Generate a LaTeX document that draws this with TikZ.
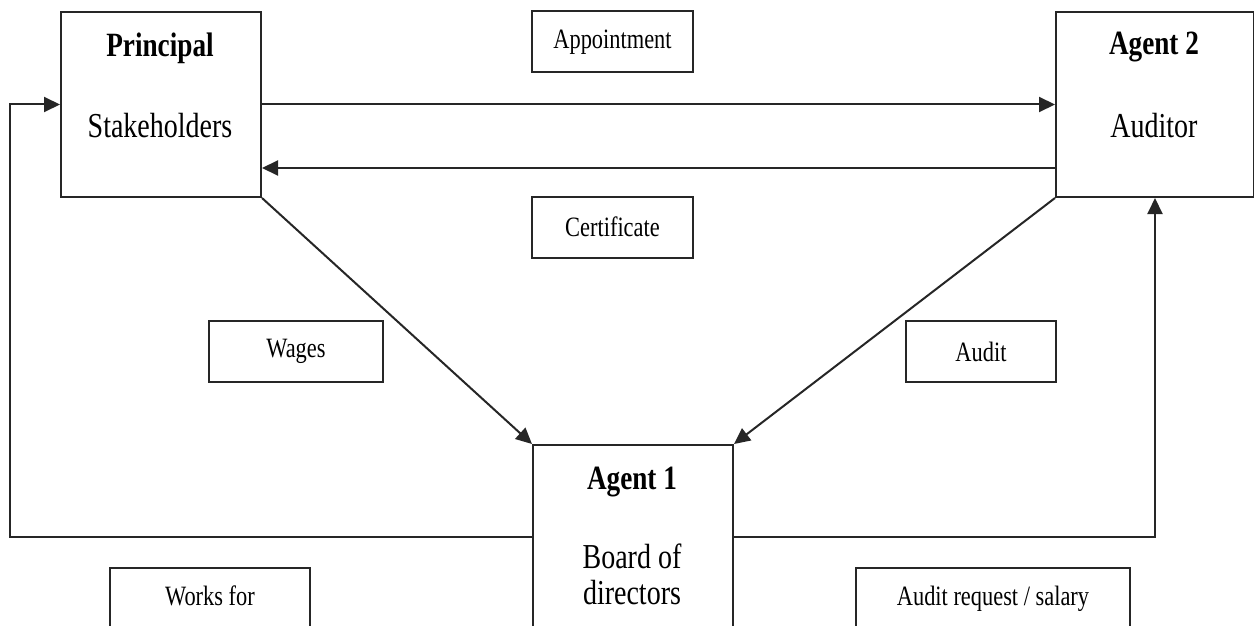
\documentclass[tikz,border=0pt]{standalone}
\usepackage{fontspec}
\setmainfont{Liberation Serif}[FakeStretch=0.8]
\usepackage{tikz}
\usetikzlibrary{arrows.meta, positioning, calc}
\tikzset{
  actor/.style={
    rectangle, draw=black!85, line width=2pt,
    anchor=north west, inner sep=0pt,
  },
  tag/.style={
    rectangle, draw=black!85, line width=2pt,
    minimum height=61pt, inner sep=0pt,
    text centered, font=\fontsize{28}{32}\selectfont,
  },
  title/.style={anchor=base, inner sep=0pt, font=\fontsize{34}{36}\selectfont\bfseries},
  role/.style={anchor=base, inner sep=0pt, font=\fontsize{35}{36}\selectfont},
  tagtext/.style={anchor=base, inner sep=0pt, font=\fontsize{28}{32}\selectfont},
  arrow/.style={-{Triangle[length=16pt, width=15pt]}, line width=2pt, color=black!85},
}

\begin{document}
\begin{tikzpicture}[x=1pt, y=-1pt]
  \useasboundingbox (0,0) rectangle (1254,626);
  \clip (0,0) rectangle (1254,626);

  % the three parties
  \node[actor, minimum width=200pt, minimum height=185pt] (principal) at (60,11) {};
  \node[actor, minimum width=198pt, minimum height=185pt] (auditor) at (1055,11) {};
  \node[actor, minimum width=200pt, minimum height=210pt] (board) at (532,444) {};

  \node[title] (principal-t) at (160,57) {Principal};
  \node[role]  (principal-r) at (160,137) {Stakeholders};
  \node[title] (auditor-t) at (1154,55) {Agent 2};
  \node[role]  (auditor-r) at (1154,137) {Auditor};
  \node[title] (board-t) at (632,489) {Agent 1};
  \node[role]  (board-r1) at (632,568) {Board of};
  \node[role]  (board-r2) at (632,604) {directors};

  % relation labels
  \node[tag, minimum width=161pt] (appointment) at (612.5,42) {Appointment};
  \node[tag, minimum width=161pt] (certificate) at (612.5,227) {Certificate};
  \node[tag, minimum width=174pt] (wages) at (296,351.5) {Wages};
  \node[tag, minimum width=150pt] (audit) at (981,351.5) {Audit};
  \node[tag, anchor=north, minimum width=200pt, minimum height=90pt] (works) at (210,567) {};
  \node[tagtext] (works-t) at (210,605) {Works for};
  \node[tag, anchor=north, minimum width=274pt, minimum height=90pt] (request) at (993,567) {};
  \node[tagtext] (request-t) at (993,605) {Audit request / salary};

  % connectors
  \draw[arrow] (principal.east) -- (auditor.west);
  \draw[arrow] ([yshift=30pt]auditor.south west) -- ([yshift=30pt]principal.south east);
  \draw[arrow] (principal.south east) -- (board.north west);
  \draw[arrow] (auditor.south west) -- (board.north east);
  \draw[arrow] ([yshift=-93pt]board.north west) -- ++(-522,0) |- (principal.west);
  \draw[arrow] ([yshift=-93pt]board.north east) -| (auditor.south);

\end{tikzpicture}
\end{document}
